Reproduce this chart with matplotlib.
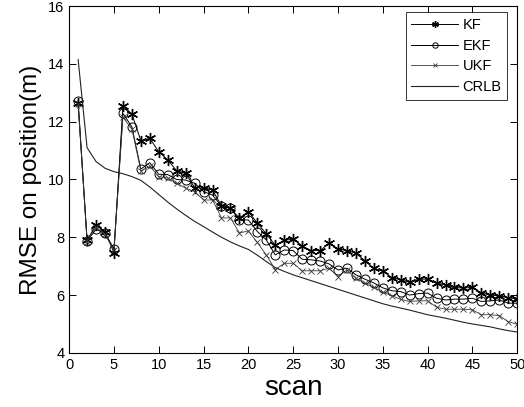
import matplotlib
matplotlib.use('Agg')
import matplotlib.pyplot as plt
import numpy as np

plt.rcParams['font.family'] = ['Liberation Sans', 'DejaVu Sans']

scan = np.arange(1, 51)

kf = [12.63, 7.90, 8.42, 8.20, 7.47, 12.54, 12.27, 11.34, 11.42, 10.96,
      10.68, 10.30, 10.21, 9.72, 9.70, 9.64, 9.08, 9.00, 8.66, 8.89,
      8.49, 8.12, 7.72, 7.89, 7.94, 7.70, 7.54, 7.54, 7.79, 7.60,
      7.54, 7.45, 7.19, 6.92, 6.84, 6.60, 6.53, 6.44, 6.55, 6.55,
      6.41, 6.35, 6.27, 6.24, 6.27, 6.07, 6.00, 5.97, 5.91, 5.86]

ekf = [12.72, 7.88, 8.27, 8.14, 7.60, 12.29, 11.82, 10.36, 10.58, 10.18,
       10.17, 10.00, 9.98, 9.87, 9.58, 9.46, 9.08, 9.00, 8.60, 8.60,
       8.20, 7.91, 7.39, 7.56, 7.54, 7.24, 7.22, 7.18, 7.08, 6.87,
       6.93, 6.70, 6.55, 6.42, 6.25, 6.15, 6.12, 6.00, 6.05, 6.07,
       5.89, 5.83, 5.86, 5.86, 5.89, 5.78, 5.80, 5.83, 5.72, 5.72]

ukf = [12.60, 7.85, 8.35, 8.10, 7.55, 12.15, 11.75, 10.30, 10.45, 10.10,
       10.05, 9.87, 9.70, 9.58, 9.29, 9.29, 8.67, 8.67, 8.15, 8.22,
       7.82, 7.39, 6.88, 7.10, 7.10, 6.84, 6.84, 6.84, 6.93, 6.64,
       6.87, 6.58, 6.41, 6.27, 6.10, 5.98, 5.85, 5.78, 5.80, 5.80,
       5.58, 5.51, 5.51, 5.51, 5.49, 5.32, 5.32, 5.29, 5.08, 4.99]

crlb = [14.15, 11.10, 10.62, 10.39, 10.27, 10.20, 10.10, 9.97, 9.74, 9.48,
        9.22, 8.98, 8.76, 8.55, 8.37, 8.18, 8.00, 7.84, 7.70, 7.58,
        7.38, 7.16, 6.95, 6.82, 6.70, 6.60, 6.50, 6.40, 6.30, 6.20,
        6.10, 6.00, 5.90, 5.80, 5.70, 5.62, 5.55, 5.48, 5.40, 5.32,
        5.26, 5.20, 5.13, 5.06, 5.00, 4.95, 4.90, 4.83, 4.77, 4.72]

xticks = np.arange(0, 51, 5)
yticks = np.arange(4, 17, 2)

fig = plt.figure(figsize=(5.24, 4.07), dpi=100)
ax = fig.add_axes([0.132, 0.133, 0.855, 0.852])

# matlab-style asterisk instead of the filled star
ax.plot(scan, kf, '-', marker=(6, 2, 0), color='black', lw=0.7, ms=8, mew=1.0, label='KF')
ax.plot(scan, ekf, '-o', color='black', lw=0.7, ms=6.5, mfc='none', mew=0.7, label='EKF')
ax.plot(scan, ukf, '-x', color='#3a3a3a', lw=0.6, ms=5, mew=0.6, label='UKF')
ax.plot(scan, crlb, '-', color='#222222', lw=0.8, label='CRLB')

ax.set_xlim(0, 50)
ax.set_ylim(4, 16)
ax.set_xticks(xticks)
ax.set_yticks(yticks)
ax.tick_params(direction='in', top=True, right=True, length=5, width=0.7, labelsize=10.5)
for s in ax.spines.values():
    s.set_linewidth(0.8)

ax.set_xlabel('scan', fontsize=20, labelpad=2)
ax.set_ylabel('RMSE on position(m)', fontsize=17.5, labelpad=4)

leg = ax.legend(loc='upper right', bbox_to_anchor=(0.978, 0.982), fontsize=10.5,
                frameon=True, fancybox=False, edgecolor='black', handlelength=3.2,
                markerscale=0.6, borderpad=0.4, labelspacing=0.45, handletextpad=0.3,
                borderaxespad=0)
leg.get_frame().set_linewidth(0.7)

fig.savefig('out.png', dpi=100)
